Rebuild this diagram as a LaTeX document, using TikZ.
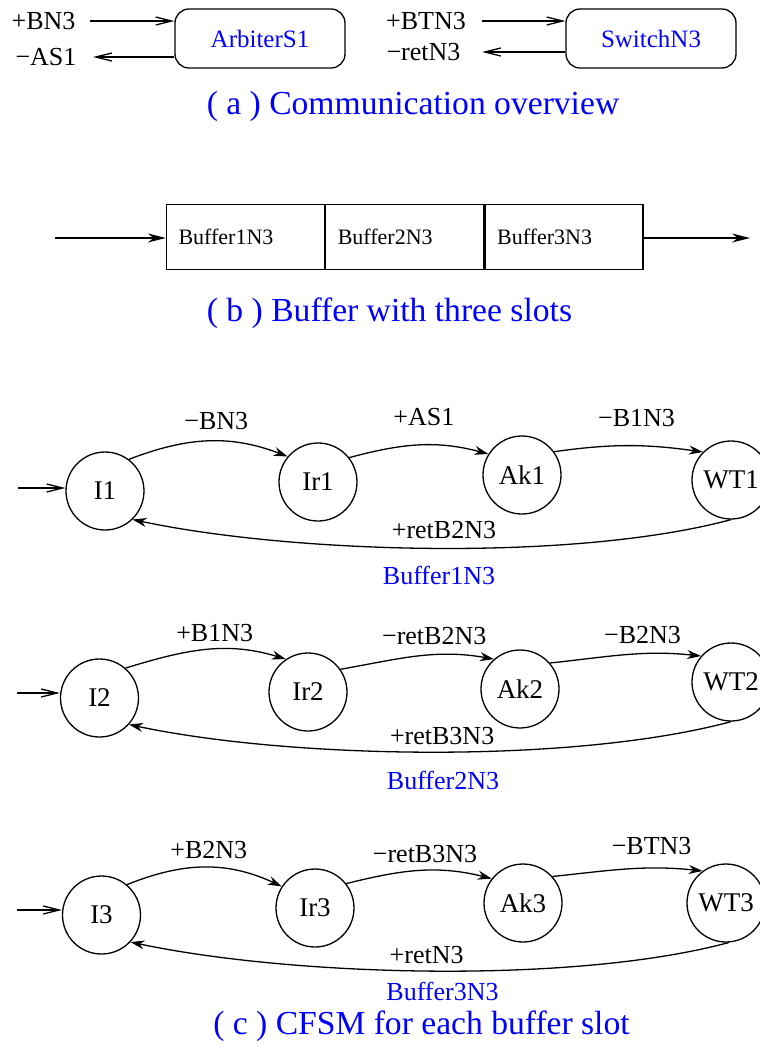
\documentclass[tikz,border=0pt]{standalone}
\usepackage{fontspec}
\setmainfont{Liberation Serif}
\usepackage{tikz}
\usetikzlibrary{arrows.meta}
\usetikzlibrary{positioning}
\tikzset{every picture/.style={line width=0.65pt}}
\tikzset{
  proc/.style={draw, rounded corners=7pt, minimum width=85pt, minimum height=29.5pt, text=blue, font=\fontsize{12.5}{14}\selectfont},
  slot/.style={draw, minimum height=32.5pt, text width=67pt, inner xsep=6pt, align=left, font=\fontsize{11}{13}\selectfont},
  st/.style={circle, draw, minimum size=39pt, inner sep=0pt, font=\fontsize{13.5}{15}\selectfont},
  msg/.style={font=\fontsize{13}{15}\selectfont},
  bufname/.style={text=blue, font=\fontsize{13}{15}\selectfont},
  subcap/.style={text=blue, font=\fontsize{16.8}{19}\selectfont},
  sig/.style={-{Straight Barb[length=8pt,width=4pt]}},
  flow/.style={-{Stealth[length=9pt,width=4.5pt]}},
  tr/.style={-{Stealth[length=7pt,width=4.5pt]}}
}

\begin{document}
\begin{tikzpicture}[x=0.5pt,y=0.5pt]
\useasboundingbox (0,0) rectangle (760,-1046);

% communication overview
\node (arb) [proc] at (260,-38.5) {ArbiterS1};
\node (swn) [proc] at (651,-38.5) {SwitchN3};
\node (bn3) [msg] at (43.5,-21) {+BN3};
\node (as1) [msg] at (46,-57) {−AS1};
\node (btn3) [msg] at (426,-21) {+BTN3};
\node (retn3) [msg] at (423.5,-52) {−retN3};
\draw[sig, shorten <=3.7pt] (bn3.east) -- (arb.west |- bn3);
\draw[sig, shorten >=4.7pt] (arb.west |- as1) -- (as1.east);
\draw[sig, shorten <=4.2pt] (btn3.east) -- (swn.west |- btn3);
\draw[sig, shorten >=7.2pt] (swn.west |- retn3) -- (retn3.east);
\node (capa) [subcap] at (413,-106) {( a ) Communication overview};

% the buffer
\node (slot1) [slot] at (245.5,-237) {Buffer1N3};
\node (slot2) [slot, right=0pt of slot1] {Buffer2N3};
\node (slot3) [slot, right=0pt of slot2] {Buffer3N3};
\coordinate (bin) at (55,-238);
\coordinate (bout) at (750,-238);
\draw[flow] (bin) -- (slot1.west |- bin);
\draw[flow] (slot3.east |- bout) -- (bout);
\node (capb) [subcap] at (389.5,-313) {( b ) Buffer with three slots};

% slot 1
\node (i1) [st] at (105,-491) {I1};
\node (ir1) [st] at (318,-482) {Ir1};
\node (ak1) [st] at (522,-475) {Ak1};
\node (wt1) [st] at (731,-480) {WT1};
\coordinate (s1) at (18,-488);
\draw[sig] (s1) -- (s1 -| i1.west);
\draw[tr] (i1.53) to[out=21,in=159] node[msg,above=2pt,xshift=4pt] {−BN3} (ir1.140);
\draw[tr] (ir1.38) to[out=15,in=165] node[msg,above=6pt,xshift=2.5pt] {+AS1} (ak1.148);
\draw[tr] (ak1.36) to[out=8,in=172] node[msg,above=6pt,xshift=4pt] {−B1N3} (wt1.135);
\draw[tr] (wt1.-90) to[out=195,in=-12,looseness=0.7] node[msg,anchor=south west,xshift=-24pt,yshift=1pt] {+retB2N3} (i1.-46);
\node (buf1) [bufname] at (439,-575) {Buffer1N3};

% slot 2
\node (i2) [st] at (99.5,-698) {I2};
\node (ir2) [st] at (308,-692) {Ir2};
\node (ak2) [st] at (520,-689) {Ak2};
\node (wt2) [st] at (731,-682) {WT2};
\coordinate (s2) at (17,-693);
\draw[sig] (s2) -- (s2 -| i2.west);
\draw[tr] (i2.49) to[out=17,in=163] node[msg,above=0.5pt,xshift=4.5pt] {+B1N3} (ir2.124);
\draw[tr] (ir2.35) to[out=10,in=170] node[msg,above=2pt,xshift=8.5pt] {−retB2N3} (ak2.131);
\draw[tr] (ak2.41) to[out=6,in=174] node[msg,above=2pt,xshift=8.5pt] {−B2N3} (wt2.139);
\draw[tr] (wt2.-90) to[out=195,in=-12,looseness=0.7] node[msg,anchor=south west,xshift=-24pt] {+retB3N3} (i2.-42);
\node (buf2) [bufname] at (443,-780) {Buffer2N3};

% slot 3
\node (i3) [st] at (101.5,-915) {I3};
\node (ir3) [st] at (315,-908) {Ir3};
\node (ak3) [st] at (523,-903) {Ak3};
\node (wt3) [st] at (726,-903) {WT3};
\coordinate (s3) at (17,-910);
\draw[sig] (s3) -- (s3 -| i3.west);
\draw[tr] (i3.50) to[out=22,in=155] node[msg,above=0.5pt,xshift=2pt] {+B2N3} (ir3.147);
\draw[tr] (ir3.38) to[out=14,in=166] node[msg,above=0.5pt,xshift=3pt] {−retB3N3} (ak3.142);
\draw[tr] (ak3.42) to[out=6,in=174] node[msg,above=3.7pt,xshift=12pt] {−BTN3} (wt3.126);
\draw[tr] (wt3.-86) to[out=195,in=-12,looseness=0.7] node[msg,anchor=south west,xshift=-24pt] {+retN3} (i3.-43);
\node (buf3) [bufname] at (442.5,-991) {Buffer3N3};
\node (capc) [subcap] at (421.5,-1026) {( c ) CFSM for each buffer slot};
\end{tikzpicture}
\end{document}
